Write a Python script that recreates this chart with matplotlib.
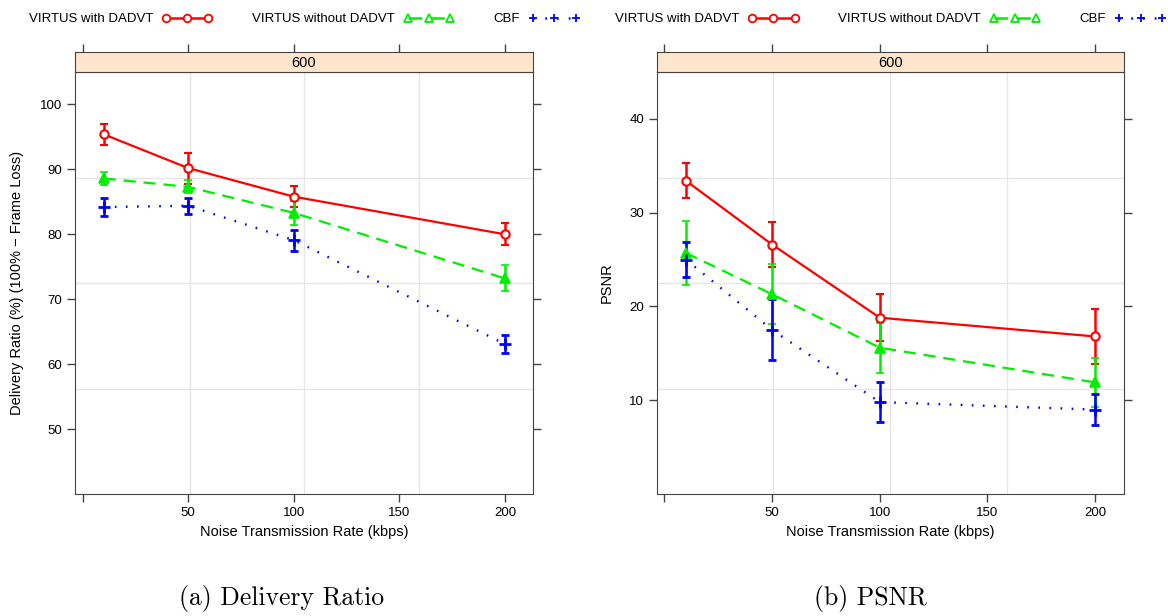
"""Delivery ratio and PSNR vs noise transmission rate (two lattice-style panels)."""
import matplotlib
matplotlib.use("Agg")
import matplotlib.pyplot as plt
from matplotlib.lines import Line2D

plt.rcParams["font.family"] = ["Liberation Sans", "DejaVu Sans"]

RATE = [10, 50, 100, 200]
SERIES = ["VIRTUS with DADVT", "VIRTUS without DADVT", "CBF"]
STRIP = "600"

# (a) delivery ratio, %
DR_WITH = [95.4, 90.2, 85.8, 80.0]
DR_WITH_ERR = [1.6, 2.4, 1.65, 1.7]
DR_WITHOUT = [88.6, 87.3, 83.3, 73.2]
DR_WITHOUT_ERR = [1.0, 1.0, 1.9, 2.0]
DR_CBF = [84.2, 84.4, 79.1, 63.1]
DR_CBF_ERR = [1.4, 1.2, 1.6, 1.4]

# (b) PSNR
PSNR_WITH = [33.4, 26.6, 18.8, 16.8]
PSNR_WITH_ERR = [1.85, 2.4, 2.5, 2.9]
PSNR_WITHOUT = [25.7, 21.3, 15.6, 11.9]
PSNR_WITHOUT_ERR = [3.4, 3.2, 2.65, 2.6]
PSNR_CBF = [25.0, 17.5, 9.8, 9.0]
PSNR_CBF_ERR = [1.85, 3.25, 2.1, 1.65]

STYLE = [
    dict(color="#ff0000", ls="-", lw=1.6, marker="o", mfc="white", ms=6, mew=1.5),
    dict(color="#00ee00", ls=(0, (5.5, 3.5)), lw=1.6, marker="^", ms=7.5, mew=1.2),
    dict(color="#0000ff", ls=(0, (0.7, 4.0)), lw=1.7, marker="+", ms=9, mew=2),
]
AX_COL = "#444444"
GRID_COL = "#e6e6e6"


def panel(fig, rect, ys, errs, ylim, yticks, ylabel, ylabel_x):
    ax = fig.add_axes(rect)
    for y, e, st in zip(ys, errs, STYLE):
        ax.errorbar(RATE, y, yerr=e, capsize=2.6, elinewidth=1.8, capthick=1.8,
                    ecolor=st["color"], zorder=3, **st)
    # lattice-ish background grid at quarter positions of the panel
    for f in (0.25, 0.5, 0.75):
        ax.plot([f, f], [0, 1], transform=ax.transAxes, color=GRID_COL, lw=1, zorder=0)
        ax.plot([0, 1], [f, f], transform=ax.transAxes, color=GRID_COL, lw=1, zorder=0)
    ax.set_xlim(-3.6, 213.3)
    ax.set_ylim(*ylim)
    ax.set_xticks([0, 50, 100, 150, 200])
    ax.set_xticklabels(["", "50", "100", "150", "200"])
    ax.set_yticks(yticks)
    ax.tick_params(direction="out", length=6, width=1, color=AX_COL,
                   labelsize=9.5, right=True, pad=3)
    for s in ax.spines.values():
        s.set_color(AX_COL)
    ax.set_xlabel("Noise Transmission Rate (kbps)", fontsize=10.5, labelpad=5)
    fig.text(ylabel_x, rect[1] + rect[3] / 2, ylabel, rotation=90,
             ha="center", va="center", fontsize=10.5)

    sax = fig.add_axes([rect[0], rect[1] + rect[3], rect[2], 0.032])
    sax.set_facecolor("#ffe5cc")
    sax.set_xlim(ax.get_xlim())
    sax.set_yticks([])
    sax.xaxis.tick_top()
    sax.set_xticks([0, 50, 100, 150, 200])
    sax.set_xticklabels([])
    sax.tick_params(direction="out", length=6, width=1, color=AX_COL)
    for s in sax.spines.values():
        s.set_color(AX_COL)
    sax.text(0.5, 0.45, STRIP, transform=sax.transAxes, ha="center", va="center",
             fontsize=10.5)

    handles = [Line2D([], [], color=st["color"], ls=st["ls"], lw=1.8,
                      marker=st["marker"], mfc=st["mfc"] if "mfc" in st else "none",
                      ms=5.5, mew=1.3) for st in STYLE]
    fig.legend(handles, SERIES, loc="upper center",
               bbox_to_anchor=(rect[0] + rect[2] / 2, 0.998), ncol=3,
               markerfirst=False, numpoints=3, frameon=False, fontsize=9.5,
               handlelength=3.8, handletextpad=0.7, columnspacing=3.0)
    return ax


def main():
    fig = plt.figure(figsize=(11.68, 6.16), dpi=100)
    W, H = 1168.0, 616.0
    bottom, height = 1 - 494 / H, 422 / H

    panel(fig, [75 / W, bottom, 458 / W, height],
          [DR_WITH, DR_WITHOUT, DR_CBF], [DR_WITH_ERR, DR_WITHOUT_ERR, DR_CBF_ERR],
          (40, 105), [50, 60, 70, 80, 90, 100],
          "Delivery Ratio (%) (100% \u2212 Frame Loss)", 17 / W)
    panel(fig, [656.7 / W, bottom, 467 / W, height],
          [PSNR_WITH, PSNR_WITHOUT, PSNR_CBF],
          [PSNR_WITH_ERR, PSNR_WITHOUT_ERR, PSNR_CBF_ERR],
          (0, 45), [10, 20, 30, 40], "PSNR", 607 / W)

    fig.text(282 / W, 1 - 599 / H, "(a) Delivery Ratio", ha="center", va="center",
             fontsize=18.5, family=["cmr10", "DejaVu Serif"])
    fig.text(870 / W, 1 - 599 / H, "(b) PSNR", ha="center", va="center",
             fontsize=18.5, family=["cmr10", "DejaVu Serif"])
    fig.savefig("out.png", dpi=100)


if __name__ == "__main__":
    main()
